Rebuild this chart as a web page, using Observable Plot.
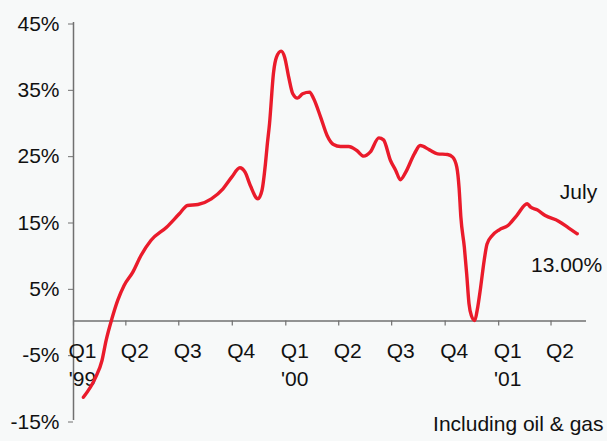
<!DOCTYPE html>
<html>
<head>
<meta charset="utf-8">
<script src="https://cdn.jsdelivr.net/npm/d3@7"></script>
<script src="https://cdn.jsdelivr.net/npm/@observablehq/plot@0.6"></script>
<style>
  html, body { margin: 0; padding: 0; background: #f7f9f9; }
  #chart svg { display: block; }
</style>
</head>
<body>
<div id="chart"></div>
<script>
// Data
const dates = ["1999-01-18","1999-02-08","1999-02-19","1999-02-26","1999-03-08","1999-03-18","1999-03-29","1999-04-13","1999-04-27","1999-05-14",
  "1999-06-10","1999-07-02","1999-07-16","1999-08-03","1999-08-26","1999-09-15","1999-09-30","1999-10-14","1999-10-23","1999-11-01",
  "1999-11-14","1999-11-21","1999-11-27","1999-11-30","1999-12-04","1999-12-11","1999-12-16","1999-12-24","1999-12-30","2000-01-06",
  "2000-01-13","2000-01-21","2000-01-30","2000-02-11","2000-02-18","2000-03-01","2000-03-12","2000-03-23","2000-04-04","2000-04-18",
  "2000-05-02","2000-05-14","2000-05-25","2000-06-09","2000-06-17","2000-06-29","2000-07-08","2000-07-16","2000-07-25","2000-08-09",
  "2000-08-19","2000-09-04","2000-09-18","2000-10-05","2000-10-14","2000-10-21","2000-10-25","2000-10-28","2000-11-03","2000-11-07",
  "2000-11-11","2000-11-15","2000-11-21","2000-11-25","2000-12-01","2000-12-07","2000-12-12","2000-12-21","2001-01-02","2001-01-17",
  "2001-02-01","2001-02-19","2001-02-25","2001-03-08","2001-03-22","2001-04-14","2001-05-01","2001-05-16"];
const values = [-11.5,-8.5,-5.95,-2.95,0.33,3.1,5.35,7.36,9.87,12.14,
  14.14,16.16,17.41,17.56,18.42,19.93,21.68,23.1,22.43,20.43,
  18.42,19.67,23.7,26.46,29.73,37.5,39.77,40.68,39.77,36.76,
  34.25,33.6,34.25,34.5,33.5,30.7,27.97,26.6,26.3,26.3,
  25.7,24.85,25.45,27.6,27.3,24.2,22.7,21.3,22.4,25.2,
  26.45,25.8,25.2,25.1,24.7,23.2,20.0,15.65,11.1,7.1,
  2.6,0.83,0.08,1.6,5.1,9.1,11.6,12.9,13.75,14.4,
  15.9,17.67,17.16,16.76,15.9,15.05,14.05,13.15];

const quarterDates = ["1999-01-01","1999-04-01","1999-07-01","1999-10-01","2000-01-01","2000-04-01","2000-07-01","2000-10-01","2001-01-01","2001-04-01"];
const quarterLabels = ["Q1","Q2","Q3","Q4","Q1","Q2","Q3","Q4","Q1","Q2"];
const yearLabels = ["'99","","","","'00","","","","'01",""];
const yTicks = [-15, -5, 5, 15, 25, 35, 45];
const xDomain = ["1999-01-01", "2001-06-01"];
const yDomain = [-15, 45];
const endLabelTop = "July";
const endLabelValue = "13.00%";
const noteLabel = "Including oil & gas";

const series = dates.map((d, i) => ({date: new Date(d), value: values[i]}));
const quarters = quarterDates.map((d, i) => ({date: new Date(d), q: quarterLabels[i], yr: yearLabels[i]}));
const last = series[series.length - 1];

const axisColor = "#707070";
const lineColor = "#ea1b2b";

const chart = Plot.plot({
  width: 607,
  height: 441,
  marginLeft: 73,
  marginRight: 21,
  marginTop: 22,
  marginBottom: 21,
  style: {background: "#f7f9f9", fontFamily: "'Liberation Sans', Arial, sans-serif", fontSize: "21px", color: "#111"},
  x: {type: "utc", domain: xDomain.map(d => new Date(d)), axis: null},
  y: {domain: yDomain, axis: null},
  marks: [
    // y axis
    Plot.ruleX([new Date(xDomain[0])], {y1: yDomain[0], y2: yDomain[1], stroke: axisColor, strokeWidth: 1.5}),
    Plot.axisY(yTicks, {label: null, tickSize: 5, tickPadding: 9, tickFormat: d => d + "%", stroke: axisColor, fill: "#111", fontSize: 21, dy: 1.5}),
    // x axis at zero
    Plot.ruleY([0], {stroke: axisColor, strokeWidth: 1.5}),
    Plot.ruleX(quarters, {x: "date", y1: 0, y2: -0.75, stroke: axisColor, strokeWidth: 1.2}),
    Plot.text(quarters, {x: "date", y: 0, text: "q", dx: 9, dy: 30, fill: "#111", fontSize: 21}),
    Plot.text(quarters, {x: "date", y: 0, text: "yr", dx: 9, dy: 58, fill: "#111", fontSize: 21}),
    // series
    Plot.line(series, {x: "date", y: "value", stroke: lineColor, strokeWidth: 3.4, curve: "monotone-x"}),
    // annotations
    Plot.text([last], {x: "date", y: "value", text: () => endLabelTop, textAnchor: "end", dx: 20, dy: -42, fill: "#111", fontSize: 21}),
    Plot.text([last], {x: "date", y: "value", text: () => endLabelValue, textAnchor: "end", dx: 25, dy: 31, fill: "#111", fontSize: 21}),
    Plot.text([noteLabel], {frameAnchor: "bottom-right", text: d => d, textAnchor: "end", dx: 17, dy: 10, fill: "#111", fontSize: 21})
  ]
});
document.getElementById("chart").appendChild(chart);
</script>
</body>
</html>
